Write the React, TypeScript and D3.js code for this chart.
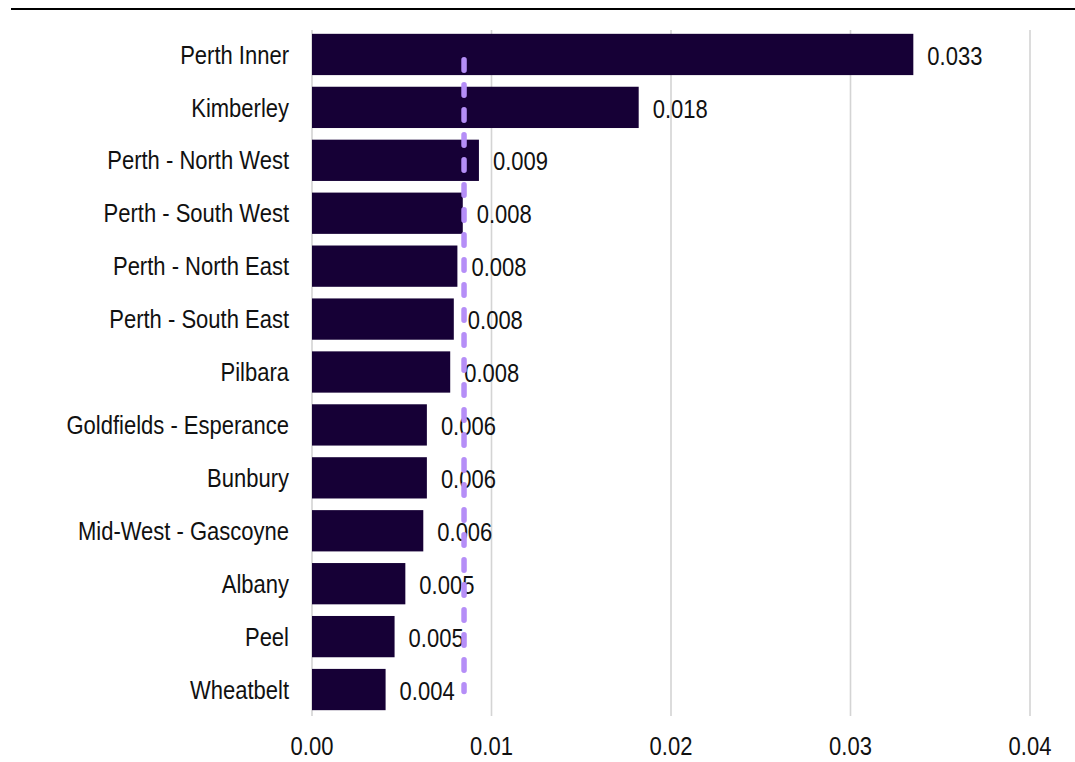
import React from "react";
import * as d3 from "d3";

const categories = [
  "Perth Inner",
  "Kimberley",
  "Perth - North West",
  "Perth - South West",
  "Perth - North East",
  "Perth - South East",
  "Pilbara",
  "Goldfields - Esperance",
  "Bunbury",
  "Mid-West - Gascoyne",
  "Albany",
  "Peel",
  "Wheatbelt",
];
const values = [0.0335, 0.0182, 0.0093, 0.0084, 0.0081, 0.0079, 0.0077, 0.0064, 0.0064, 0.0062, 0.0052, 0.0046, 0.0041];
const labels = ["0.033", "0.018", "0.009", "0.008", "0.008", "0.008", "0.008", "0.006", "0.006", "0.006", "0.005", "0.005", "0.004"];
const xTicks = [0, 0.01, 0.02, 0.03, 0.04];
const averageValue = 0.00847;

const font = "'Liberation Sans', Arial, sans-serif";

function T({ x, y, anchor = "start", children }: { x: number; y: number; anchor?: string; children: React.ReactNode }) {
  return (
    <text
      transform={`translate(${x},${y}) scale(1,1.17)`}
      textAnchor={anchor}
      dominantBaseline="central"
      fontFamily={font}
      fontSize={22}
      fill="#111"
    >
      {children}
    </text>
  );
}

export default function App() {
  const W = 1075;
  const H = 762;
  const x = d3.scaleLinear().domain([0, 0.04]).range([312, 1030]);
  const y = d3.scaleBand().domain(categories).range([28, 716]).paddingInner(0.22).paddingOuter(0.11);
  const lineY0 = (y(categories[0]) as number) + y.bandwidth() * 0.63;
  const lineY1 = (y(categories[categories.length - 1]) as number) + y.bandwidth() * 0.55;
  return (
    <svg width={W} height={H} style={{ position: "absolute", left: 0, top: 0 }}>
      <rect width={W} height={H} fill="#fff" />
      <line x1={11} x2={W} y1={9} y2={9} stroke="#000" strokeWidth={2} />
      {xTicks.map((t) => (
        <g key={t}>
          <line x1={x(t)} x2={x(t)} y1={30} y2={716} stroke="#d4d4d4" strokeWidth={1.6} />
          <T x={x(t)} y={746} anchor="middle">
            {t.toFixed(2)}
          </T>
        </g>
      ))}
      {categories.map((c, i) => {
        const yy = y(c) as number;
        const bw = y.bandwidth();
        return (
          <g key={c}>
            <rect x={x(0)} y={yy} width={x(values[i]) - x(0)} height={bw} fill="#160036" />
            <T x={289} y={yy + bw / 2} anchor="end">
              {c}
            </T>
            <T x={x(values[i]) + 14} y={yy + bw / 2 + 1}>
              {labels[i]}
            </T>
          </g>
        );
      })}
      <line
        x1={x(averageValue)}
        x2={x(averageValue)}
        y1={lineY0}
        y2={lineY1}
        stroke="#b58ef7"
        strokeWidth={5.5}
        strokeLinecap="round"
        strokeDasharray="10.5 14.5"
      />
    </svg>
  );
}
